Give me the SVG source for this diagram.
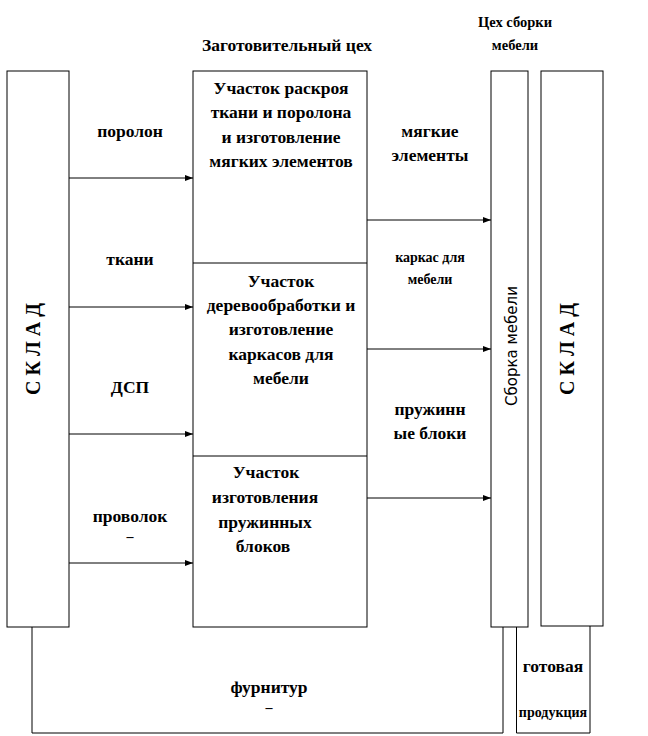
<svg xmlns="http://www.w3.org/2000/svg" width="648" height="736" viewBox="0 0 648 736">
<style>
.box{fill:#fff;stroke:#000;stroke-width:1}
.ln{fill:none;stroke:#000;stroke-width:1}
text{font-family:"Liberation Serif","Times New Roman",serif;font-weight:bold;fill:#000;text-anchor:middle}
.t16{font-size:17.5px}
.t13{font-size:14.5px}
.t12{font-size:14px}
.skl{font-size:20px}
.sb{font-family:"DejaVu Sans",sans-serif;font-weight:normal;font-size:15px}
</style>
<defs>
<marker id="ah" markerWidth="8" markerHeight="6" refX="8" refY="3" orient="auto" markerUnits="userSpaceOnUse">
<path d="M0,0 L8,3 L0,6 z" fill="#000"/>
</marker>
</defs>
<rect width="648" height="736" fill="#fff"/>
<text class="t16" x="287" y="51">Заготовительный цех</text>
<text class="t13" x="515" y="27">Цех сборки</text>
<text class="t13" x="515" y="50">мебели</text>

<g id="sklad-left">
<rect class="box" x="7" y="71" width="62" height="556"/>
<text class="skl" transform="translate(40,349) rotate(-90)">С К Л А Д</text>
</g>

<g id="zagot">
<rect class="box" x="193" y="71" width="174" height="556"/>
<line class="ln" x1="193" y1="263" x2="367" y2="263"/>
<line class="ln" x1="193" y1="456" x2="367" y2="456"/>
</g>
<g id="uch1">
<text class="t16" x="281" y="94">Участок раскроя</text>
<text class="t16" x="281" y="118">ткани и поролона</text>
<text class="t16" x="281" y="143">и изготовление</text>
<text class="t16" x="281" y="167">мягких элементов</text>
</g>
<g id="uch2">
<text class="t16" x="281" y="287">Участок</text>
<text class="t16" x="281" y="311">деревообработки и</text>
<text class="t16" x="281" y="335">изготовление</text>
<text class="t16" x="281" y="360">каркасов для</text>
<text class="t16" x="281" y="384">мебели</text>
</g>
<g id="uch3">
<text class="t16" x="266" y="478">Участок</text>
<text class="t16" x="265" y="503">изготовления</text>
<text class="t16" x="265" y="528">пружинных</text>
<text class="t16" x="263" y="552">блоков</text>
</g>

<g id="sborka">
<rect class="box" x="491" y="71" width="37" height="556"/>
<text class="sb" transform="translate(517,346) rotate(-90)">Сборка мебели</text>
</g>

<g id="sklad-right">
<rect class="box" x="541" y="71" width="62" height="555"/>
<text class="skl" transform="translate(574,349) rotate(-90)">С К Л А Д</text>
</g>

<g id="gotovaya">
<path class="ln" d="M516.5,627 V733 H590 V626"/>
<text class="t16" x="553" y="672">готовая</text>
<text class="t12" x="553" y="717">продукция</text>
</g>

<g id="connectors">
<line class="ln" x1="69" y1="178" x2="193" y2="178" marker-end="url(#ah)"/>
<line class="ln" x1="69" y1="307" x2="193" y2="307" marker-end="url(#ah)"/>
<line class="ln" x1="69" y1="434" x2="193" y2="434" marker-end="url(#ah)"/>
<line class="ln" x1="69" y1="563" x2="193" y2="563" marker-end="url(#ah)"/>
<line class="ln" x1="367" y1="220" x2="491" y2="220" marker-end="url(#ah)"/>
<line class="ln" x1="367" y1="349" x2="491" y2="349" marker-end="url(#ah)"/>
<line class="ln" x1="367" y1="498" x2="491" y2="498" marker-end="url(#ah)"/>
<path class="ln" d="M32,627 V733 H503 V627"/>
<text class="t16" x="130" y="137">поролон</text>
<text class="t16" x="130" y="265">ткани</text>
<text class="t16" x="130" y="393">ДСП</text>
<text class="t16" x="130" y="522">проволок</text>
<text class="t12" x="130" y="541">–</text>
<text class="t16" x="430" y="137">мягкие</text>
<text class="t16" x="430" y="161">элементы</text>
<text class="t12" x="430" y="262">каркас для</text>
<text class="t12" x="430" y="284">мебели</text>
<text class="t16" x="430" y="415">пружинн</text>
<text class="t16" x="430" y="439">ые блоки</text>
<text class="t16" x="269" y="693">фурнитур</text>
<text class="t12" x="269" y="712">–</text>
</g>
</svg>
